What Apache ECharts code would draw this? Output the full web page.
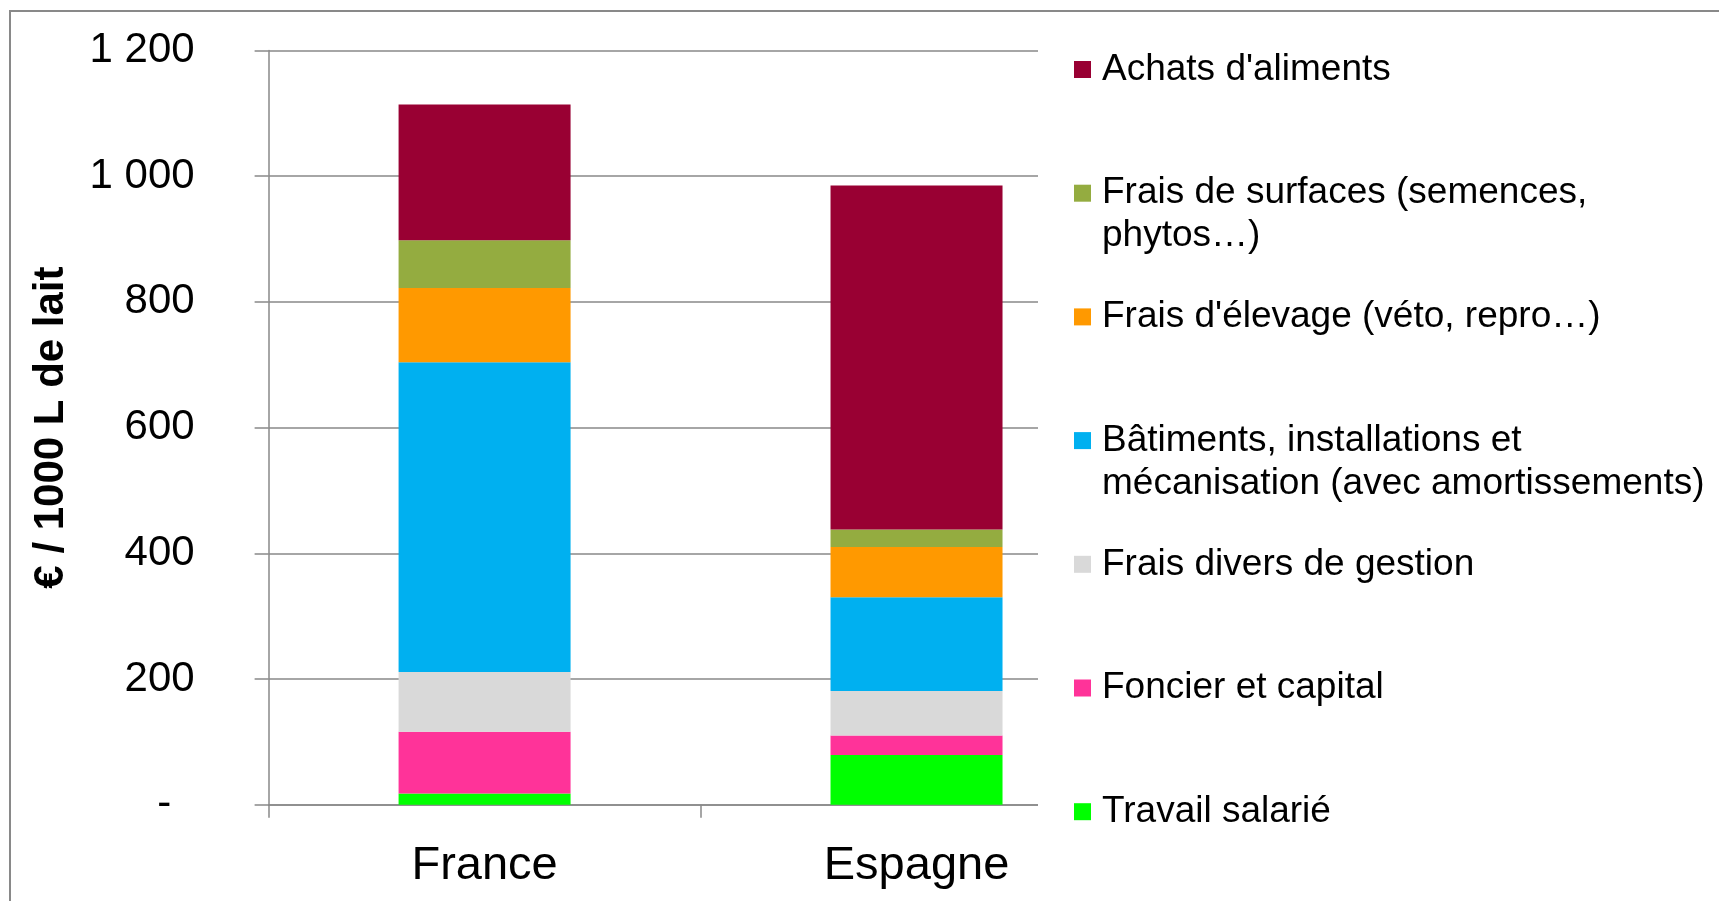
<!DOCTYPE html>
<html>
<head>
<meta charset="utf-8">
<script src="https://cdn.jsdelivr.net/npm/echarts@6/dist/echarts.min.js"></script>
<style>
html, body { margin: 0; padding: 0; background: #fff; }
#chart { width: 1719px; height: 901px; }
</style>
</head>
<body>
<div id="chart"></div>
<script>
// pays
var categories = ['France', 'Espagne'];

// €/1000 L de lait, une valeur par pays (France, Espagne)
var travailSalarie = [18, 79];
var foncierCapital = [98, 31];
var fraisDivers = [95, 71];
var batiments = [493, 149];
var fraisElevage = [118, 80];
var fraisSurfaces = [76, 28];
var achatsAliments = [216, 547];

// graduations de l'axe
var yTicks = [0, 200, 400, 600, 800, 1000, 1200];

// postes du bas vers le haut de la pile : [nom, 1re ligne, 2e ligne, couleur, données]
var postes = [
    ['Travail salarié', 'Travail salarié', '', '#00FF00', travailSalarie],
    ['Foncier et capital', 'Foncier et capital', '', '#FF3399', foncierCapital],
    ['Frais divers de gestion', 'Frais divers de gestion', '', '#D9D9D9', fraisDivers],
    ['Bâtiments, installations et mécanisation (avec amortissements)', 'Bâtiments, installations et', 'mécanisation (avec amortissements)', '#00B0F0', batiments],
    ['Frais d\'élevage (véto, repro…)', 'Frais d\'élevage (véto, repro…)', '', '#FF9900', fraisElevage],
    ['Frais de surfaces (semences, phytos…)', 'Frais de surfaces (semences,', 'phytos…)', '#94AC40', fraisSurfaces],
    ['Achats d\'aliments', 'Achats d\'aliments', '', '#990033', achatsAliments]
];

var font = 'Liberation Sans, Arial, sans-serif';
var gris = '#898989';

var chart = echarts.init(document.getElementById('chart'));

var series = postes.map(function (p) {
    return {
        name: p[0],
        type: 'bar',
        stack: 'total',
        barWidth: 172,
        itemStyle: { color: p[3] },
        data: p[4]
    };
});

var premiereLigne = {};
postes.forEach(function (p) { premiereLigne[p[0]] = p[1]; });

// 2e ligne des libellés longs de la légende
var legendTop = 51;
var legendStep = 123.7;
var suites = [];
postes.slice().reverse().forEach(function (p, i) {
    if (p[2]) {
        suites.push({
            type: 'text',
            z: 6,
            left: 1102,
            top: legendTop + i * legendStep + 43,
            style: { text: p[2], font: '37px ' + font, fill: '#000' }
        });
    }
});

var option = {
    animation: false,
    backgroundColor: '#fff',
    grid: { left: 268.6, top: 50.4, right: 586.5, bottom: 96.3 },
    legend: {
        orient: 'vertical',
        left: 1074,
        top: legendTop,
        padding: 0,
        itemGap: 86.7,
        itemWidth: 17,
        itemHeight: 17,
        icon: 'rect',
        data: postes.map(function (p) { return p[0]; }).reverse(),
        formatter: function (name) { return premiereLigne[name]; },
        textStyle: { fontFamily: font, fontSize: 37, color: '#000', padding: [0, 0, 0, 6] }
    },
    xAxis: {
        type: 'category',
        data: categories,
        axisLine: { lineStyle: { color: gris, width: 1.5 } },
        axisTick: { show: true, length: 13, lineStyle: { color: gris, width: 1.5 } },
        axisLabel: { fontFamily: font, fontSize: 47, color: '#000', margin: 38 }
    },
    yAxis: {
        type: 'value',
        min: yTicks[0],
        max: yTicks[yTicks.length - 1],
        interval: yTicks[1] - yTicks[0],
        name: '€ / 1000 L de lait',
        nameLocation: 'middle',
        nameGap: 196,
        nameTextStyle: { fontFamily: font, fontSize: 42, fontWeight: 'bold', color: '#000' },
        axisLine: { show: true, lineStyle: { color: gris, width: 1.5 } },
        axisTick: { show: true, length: 14, lineStyle: { color: gris, width: 1.5 } },
        splitLine: { lineStyle: { color: gris, width: 1.5 } },
        axisLabel: {
            fontFamily: font, fontSize: 42, color: '#000', margin: 74,
            formatter: function (v) {
                if (v === 0) return '-  ';
                return String(v).replace(/\B(?=(\d{3})+(?!\d))/g, ' ');
            }
        }
    },
    graphic: [
        // zone blanche de la légende, par-dessus le quadrillage
        { type: 'rect', z: 3, shape: { x: 1038, y: 20, width: 700, height: 900 }, style: { fill: '#fff' } },
        // cadre du graphique
        { type: 'rect', z: 10, shape: { x: 10, y: 11, width: 1800, height: 1000 }, style: { fill: null, stroke: gris, lineWidth: 2 } }
    ].concat(suites),
    series: series
};

chart.setOption(option);
</script>
</body>
</html>
